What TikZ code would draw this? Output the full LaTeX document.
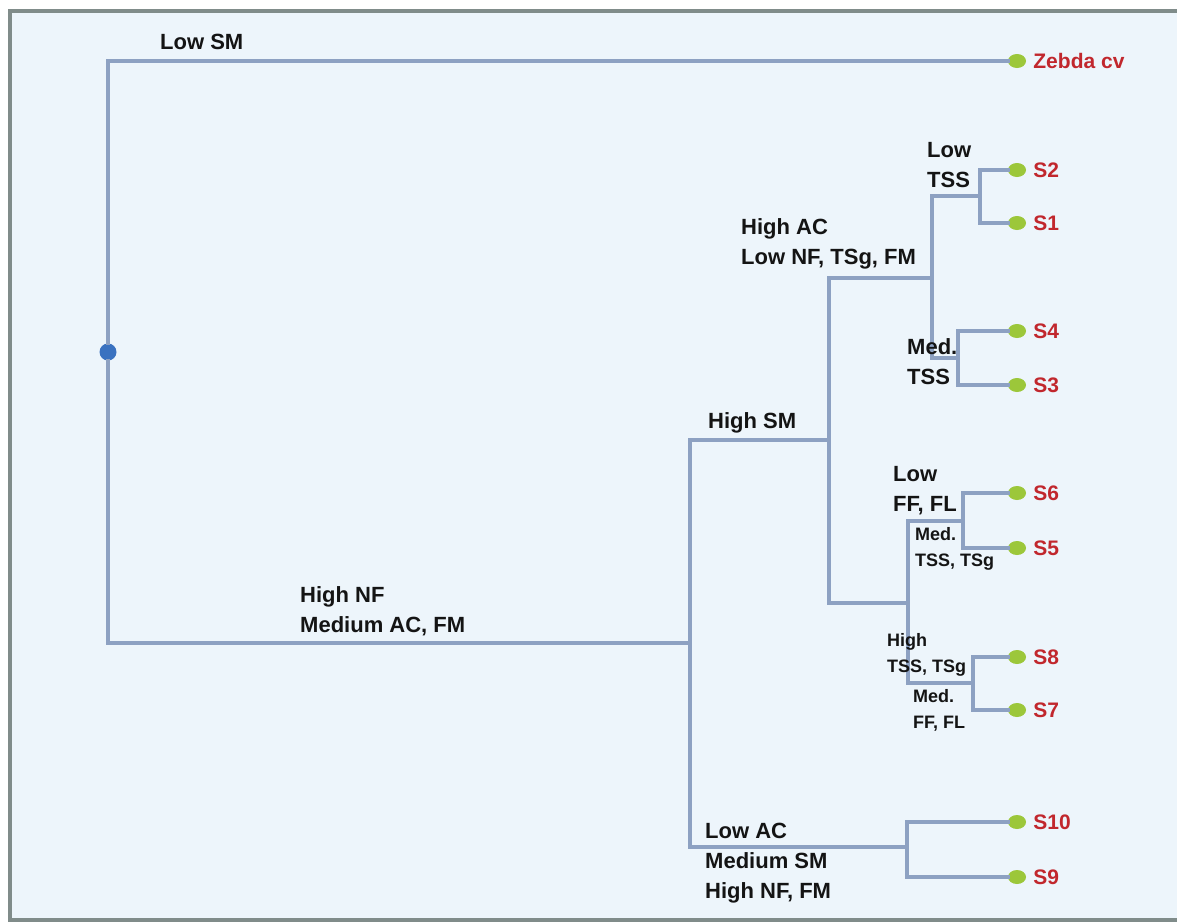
\documentclass[tikz,border=0pt]{standalone}
\usepackage{fontspec}
\setmainfont{Liberation Sans}
\usepackage{xcolor}
\usepackage{tikz}
\usetikzlibrary{positioning,shapes.geometric}

\definecolor{branch}{RGB}{141,161,194}
\definecolor{leafgreen}{RGB}{156,199,58}
\definecolor{rootblue}{RGB}{58,114,192}
\definecolor{samplered}{RGB}{193,39,45}
\definecolor{panel}{RGB}{237,245,251}
\definecolor{framegray}{RGB}{128,140,138}

\begin{document}
\begin{tikzpicture}[x=1pt,y=-1pt,
  branchline/.style={draw=branch,line width=4pt,line cap=rect},
  leaf/.style={ellipse,fill=leafgreen,minimum width=18pt,minimum height=14pt,inner sep=0pt,
    label={[samplbl]right:#1}},
  samplbl/.style={text=samplered,inner sep=0pt,xshift=7pt,font=\bfseries\fontsize{21}{21}\selectfont},
  rootdot/.style={circle,fill=rootblue,minimum size=17pt,inner sep=0pt},
  cond/.style={anchor=west,align=left,inner sep=0pt,text=black!92,font=\bfseries\fontsize{22}{30}\selectfont},
  condsm/.style={cond,font=\bfseries\fontsize{18}{26}\selectfont}]
  \useasboundingbox (0,0) rectangle (1177,922);
  % panel
  \fill[white] (0,0) rectangle (1177,922);
  \fill[framegray] (8,9) rectangle (1177,922);
  \fill[panel] (12,13) rectangle (1177,918);

  % junctions
  \coordinate (jA) at (690,643);
  \coordinate (jB) at (829,440);
  \coordinate (jC) at (932,278);
  \coordinate (jD) at (980,196);
  \coordinate (jE) at (958,358);
  \coordinate (jF) at (908,603);
  \coordinate (jG) at (963,521);
  \coordinate (jH) at (973,683);
  \coordinate (jI) at (907,847);

  % root and leaves
  \node[rootdot] (root) at (108,352) {};
  \node[leaf=Zebda cv] (zeb) at (1017,61) {};
  \node[leaf=S2] (s2) at (1017,170) {};
  \node[leaf=S1] (s1) at (1017,223) {};
  \node[leaf=S4] (s4) at (1017,331) {};
  \node[leaf=S3] (s3) at (1017,385) {};
  \node[leaf=S6] (s6) at (1017,493) {};
  \node[leaf=S5] (s5) at (1017,548) {};
  \node[leaf=S8] (s8) at (1017,657) {};
  \node[leaf=S7] (s7) at (1017,710) {};
  \node[leaf=S10] (s10) at (1017,822) {};
  \node[leaf=S9] (s9) at (1017,877) {};

  % branches
  \draw[branchline] (root) |- (zeb); \draw[branchline] (root) |- (jA);
  \draw[branchline] (jA) |- (jB); \draw[branchline] (jA) |- (jI);
  \draw[branchline] (jB) |- (jC); \draw[branchline] (jB) |- (jF);
  \draw[branchline] (jC) |- (jD); \draw[branchline] (jC) |- (jE);
  \draw[branchline] (jD) |- (s2); \draw[branchline] (jD) |- (s1);
  \draw[branchline] (jE) |- (s4); \draw[branchline] (jE) |- (s3);
  \draw[branchline] (jF) |- (jG); \draw[branchline] (jF) |- (jH);
  \draw[branchline] (jG) |- (s6); \draw[branchline] (jG) |- (s5);
  \draw[branchline] (jH) |- (s8); \draw[branchline] (jH) |- (s7);
  \draw[branchline] (jI) |- (s10); \draw[branchline] (jI) |- (s9);

  % conditions
  \node[cond] (lowsm) at (160,42) {Low SM};
  \node[cond] (hinf) at (300,611) {High NF\\Medium AC, FM};
  \node[cond] (hism) at (708,423) {High SM};
  \node[cond] (hiac) at (741,244) {High AC\\Low NF, TSg, FM};
  \node[cond] (lotss) at (927,165) {Low\\TSS};
  \node[cond] (medtss) at (907,362) {Med.\\TSS};
  \node[cond] (loff) at (893,491) {Low\\FF, FL};
  \node[condsm] (medtsg) at (915,549) {Med.\\TSS, TSg};
  \node[condsm] (hitss) at (887,655) {High\\TSS, TSg};
  \node[condsm] (medff) at (913,710) {Med.\\FF, FL};
  \node[cond] (loac) at (705,863) {Low AC\\Medium SM\\High NF, FM};
\end{tikzpicture}
\end{document}
